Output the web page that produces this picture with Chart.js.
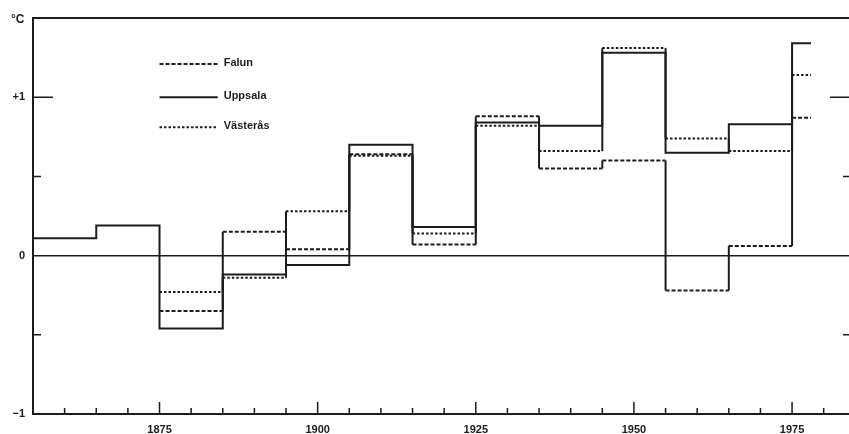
<!DOCTYPE html>
<html>
<head>
<meta charset="utf-8">
<script src="https://cdn.jsdelivr.net/npm/chart.js@4"></script>
<style>
  html, body { margin: 0; padding: 0; background: #fff; }
  #wrap { width: 849px; height: 434px; }
</style>
</head>
<body>
<div id="wrap"><canvas id="myChart"></canvas></div>
<script>
// decade means (deg C); each value holds from its start year up to the next one
const stepYears = [1855, 1865, 1875, 1885, 1895, 1905, 1915, 1925, 1935, 1945, 1955, 1965, 1975, 1978];
const falun     = [null, null, -0.35, 0.15, 0.04, 0.64, 0.07, 0.88, 0.55, 0.60, -0.22, 0.06, 0.87];
const uppsala   = [0.11, 0.19, -0.46, -0.12, -0.06, 0.70, 0.18, 0.84, 0.82, 1.28, 0.65, 0.83, 1.34];
const vasteras  = [null, null, -0.23, -0.14, 0.28, 0.63, 0.14, 0.82, 0.66, 1.31, 0.74, 0.66, 1.14];

const seriesNames = ['Falun', 'Uppsala', 'Västerås'];

const xTicks      = [1860, 1865, 1870, 1875, 1880, 1885, 1890, 1895, 1900, 1905, 1910, 1915, 1920,
                     1925, 1930, 1935, 1940, 1945, 1950, 1955, 1960, 1965, 1970, 1975, 1980];
const xLabelYears = [1875, 1900, 1925, 1950, 1975];
const yTicks      = [-1, -0.5, 0, 0.5, 1, 1.5];
const yLabels     = { '-1': '\u22121', '0': '0', '1': '+1' };

const ink  = '#1c1c1c';
const font = { family: "'Liberation Sans', Arial, sans-serif", size: 11, weight: 'bold' };

// turn the decade values into step points (horizontal run, then vertical jump)
const toSteps = (values) => {
    let pts = [];
    values.forEach((v, i) => {
        if (v === null) return;
        pts.push({ x: stepYears[i], y: v });
        pts.push({ x: stepYears[i + 1], y: v });
    });
    return pts;
};

// verticals are drawn solid for every series, like in the original print
const makeSet = (label, values, dash) => ({
    label: label,
    data: toSteps(values),
    borderColor: ink,
    borderWidth: 2,
    borderDash: dash,
    borderCapStyle: 'butt',
    pointRadius: 0,
    tension: 0,
    fill: false,
    segment: {
        borderDash: ctx => ctx.p0.parsed.x === ctx.p1.parsed.x ? [] : dash
    }
});

const frameTicks = {
    id: 'frameTicks',
    afterDraw(chart) {
        const { ctx, chartArea: a, scales: { x, y } } = chart;
        ctx.save();
        ctx.strokeStyle = ink;
        ctx.lineWidth = 1.5;
        ctx.beginPath();
        xTicks.forEach(v => {
            const px = x.getPixelForValue(v);
            const len = xLabelYears.includes(v) ? 12 : 6;
            ctx.moveTo(px, a.bottom);
            ctx.lineTo(px, a.bottom - len);
        });
        [-0.5, 0.5, 1].forEach(v => {
            const py = y.getPixelForValue(v);
            const len = v === 1 ? 20 : 8;
            ctx.moveTo(a.left, py);
            ctx.lineTo(a.left + len, py);
            ctx.moveTo(a.right, py);
            ctx.lineTo(a.right - (v === 1 ? 19 : 6), py);
        });
        ctx.stroke();

        ctx.fillStyle = ink;
        ctx.font = 'bold 12px ' + font.family;
        ctx.textAlign = 'left';
        ctx.textBaseline = 'alphabetic';
        ctx.fillText('\u00b0C', 11, 23);

        // legend inside the plot
        ctx.font = 'bold 11px ' + font.family;
        const legendY = [1.21, 1.0, 0.81];
        const x1 = x.getPixelForValue(1875);
        const x2 = x.getPixelForValue(1884.2);
        chart.data.datasets.forEach((ds, i) => {
            const py = y.getPixelForValue(legendY[i]);
            ctx.setLineDash(ds.borderDash);
            ctx.lineWidth = 2;
            ctx.beginPath();
            ctx.moveTo(x1, py);
            ctx.lineTo(x2, py);
            ctx.stroke();
            ctx.setLineDash([]);
            ctx.textBaseline = 'middle';
            ctx.fillText(ds.label, x2 + 6, py - 1);
        });
        ctx.restore();
    }
};

const context = document.getElementById('myChart').getContext('2d');

const config = {
    type: 'line',
    data: {
        datasets: [
            makeSet(seriesNames[0], falun, [4, 2]),
            makeSet(seriesNames[1], uppsala, []),
            makeSet(seriesNames[2], vasteras, [2.5, 2])
        ]
    },
    options: {
        responsive: true,
        maintainAspectRatio: false,
        animation: false,
        layout: { padding: { top: 18, right: 0, left: 0, bottom: 0 } },
        plugins: { legend: { display: false }, tooltip: { enabled: false } },
        scales: {
            x: {
                type: 'linear',
                min: 1855,
                max: 1984,
                afterBuildTicks: s => { s.ticks = xTicks.map(v => ({ value: v })); },
                afterFit: s => { s.height = 20; },
                grid: { display: false, drawTicks: false },
                border: { display: true, color: ink, width: 2 },
                ticks: {
                    autoSkip: false,
                    maxRotation: 0,
                    padding: 9,
                    color: ink,
                    font: font,
                    callback: v => xLabelYears.includes(v) ? String(v) : ''
                }
            },
            y: {
                min: -1,
                max: 1.5,
                afterBuildTicks: s => { s.ticks = yTicks.map(v => ({ value: v })); },
                afterFit: s => { s.width = 33; },
                grid: {
                    drawTicks: false,
                    color: c => (c.tick && (c.tick.value === 0 || c.tick.value === 1.5)) ? ink : 'rgba(0,0,0,0)',
                    lineWidth: c => (c.tick && c.tick.value === 1.5) ? 2 : 1.5
                },
                border: { display: true, color: ink, width: 2 },
                ticks: {
                    padding: 8,
                    color: ink,
                    font: font,
                    callback: v => yLabels[String(v)] ?? ''
                }
            }
        }
    },
    plugins: [frameTicks]
};

const myChart = new Chart(context, config);
</script>
</body>
</html>
